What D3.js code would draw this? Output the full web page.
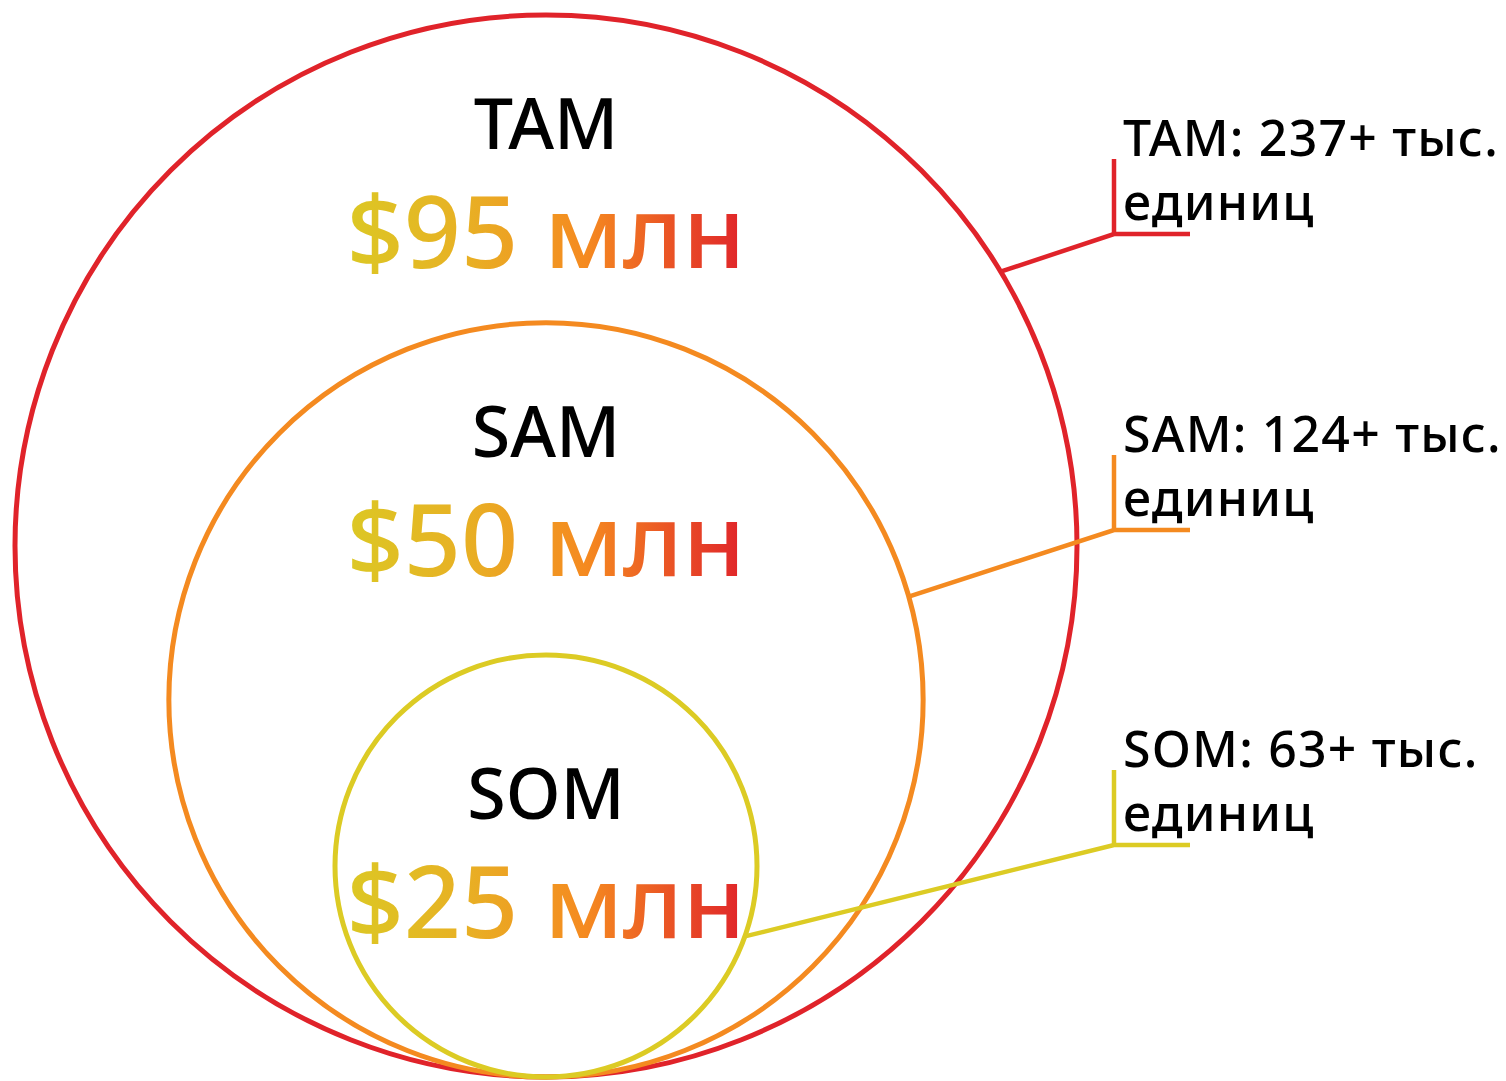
<!DOCTYPE html>
<html>
<head>
<meta charset="utf-8">
<script src="https://cdn.jsdelivr.net/npm/d3@7"></script>
<style>
	body { margin: 0; background: #fff; }
	svg { display: block; }
	text { font-family: 'Noto Sans', sans-serif; }
</style>
</head>
<body>
<div data-chart></div>
<script>
const names = ['TAM', 'SAM', 'SOM']
const values = [95, 50, 25]
const units = [237, 124, 63]
const colors = ['#e0232a', '#f48a20', '#dccb24']

const dimensions = {
	width: 1506,
	height: 1081,
	cx: 546,
	bottom: 1077,
	rMin: 211,
	rMax: 531,
	elbowX: 1114
}

// label baseline below each circle's top, leader start angle (deg), leader bend y
const nameOffsets = [134, 134, 164]
const leaderAngles = [-31.1, -15.9, 19.5]
const leaderElbows = [234, 530, 845]

const data = names.map((name, i) => ({
	name,
	value: values[i],
	units: units[i],
	color: colors[i],
	offset: nameOffsets[i],
	angle: leaderAngles[i],
	elbow: leaderElbows[i]
}))

const rScale = d3.scaleLog()
	.domain(d3.extent(values))
	.range([dimensions.rMin, dimensions.rMax])

const svg = d3.select('[data-chart]')
	.append('svg')
	.attr('width', dimensions.width)
	.attr('height', dimensions.height)

const defs = svg.append('defs')

data.forEach((d) => {
	d.r = rScale(d.value)
	d.cy = dimensions.bottom - d.r
	const a = d.angle * Math.PI / 180
	d.sx = dimensions.cx + d.r * Math.cos(a)
	d.sy = d.cy + d.r * Math.sin(a)

	const grad = defs.append('linearGradient')
		.attr('id', `grad-${d.name}`)
		.attr('x1', 0).attr('x2', 1).attr('y1', 0).attr('y2', 0)
	grad.append('stop').attr('offset', 0).attr('stop-color', '#dcc824')
	grad.append('stop').attr('offset', 0.3).attr('stop-color', '#e8b024')
	grad.append('stop').attr('offset', 0.6).attr('stop-color', '#f58a20')
	grad.append('stop').attr('offset', 1).attr('stop-color', '#e0232a')
})

/* Circles */
svg.selectAll('circle')
	.data(data)
	.join('circle')
	.attr('cx', dimensions.cx)
	.attr('cy', (d) => d.cy)
	.attr('r', (d) => d.r)
	.attr('fill', 'none')
	.attr('stroke', (d) => d.color)
	.attr('stroke-width', 5)

/* Labels inside circles */
const inner = svg.selectAll('.inner')
	.data(data)
	.join('g')
	.attr('class', 'inner')

inner.append('text')
	.attr('x', dimensions.cx)
	.attr('y', (d) => d.cy - d.r + d.offset)
	.attr('text-anchor', 'middle')
	.attr('font-size', 70)
	.attr('font-weight', 500)
	.attr('fill', '#000')
	.text((d) => d.name)

inner.append('text')
	.attr('x', dimensions.cx)
	.attr('y', (d) => d.cy - d.r + d.offset + 119)
	.attr('text-anchor', 'middle')
	.attr('font-size', 100)
	.attr('font-weight', 500)
	.attr('fill', (d) => `url(#grad-${d.name})`)
	.text((d) => `$${d.value} млн`)

/* Leader lines */
const leaders = svg.selectAll('.leader')
	.data(data)
	.join('g')
	.attr('class', 'leader')

leaders.append('path')
	.attr('d', (d) => d3.line()([
		[d.sx, d.sy],
		[dimensions.elbowX, d.elbow],
		[dimensions.elbowX + 76, d.elbow]
	]))
	.attr('fill', 'none')
	.attr('stroke', (d) => d.color)
	.attr('stroke-width', 4.5)

leaders.append('line')
	.attr('x1', dimensions.elbowX)
	.attr('x2', dimensions.elbowX)
	.attr('y1', (d) => d.elbow - 75)
	.attr('y2', (d) => d.elbow)
	.attr('stroke', (d) => d.color)
	.attr('stroke-width', 4.5)

leaders.append('text')
	.attr('x', dimensions.elbowX + 9)
	.attr('y', (d) => d.elbow - 78)
	.attr('font-size', 50)
	.attr('font-weight', 500)
	.attr('letter-spacing', 1.2)
	.text((d) => `${d.name}: ${d.units}+ тыс.`)

leaders.append('text')
	.attr('x', dimensions.elbowX + 9)
	.attr('y', (d) => d.elbow - 14)
	.attr('font-size', 50)
	.attr('font-weight', 500)
	.attr('letter-spacing', 1.2)
	.text('единиц')
</script>
</body>
</html>
